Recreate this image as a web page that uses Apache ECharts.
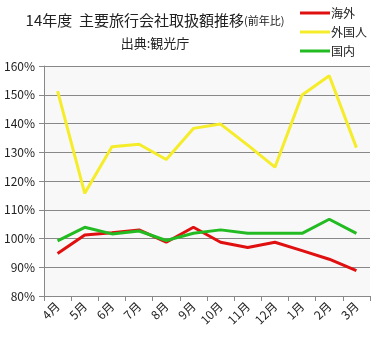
<!DOCTYPE html>
<html><head><meta charset="utf-8">
<script src="https://cdn.jsdelivr.net/npm/echarts@6/dist/echarts.min.js"></script>
<style>html,body{margin:0;padding:0;background:#fff}#c{width:376px;height:346px}</style>
</head><body><div id="c"></div>
<script>
const categories = ['4月','5月','6月','7月','8月','9月','10月','11月','12月','1月','2月','3月'];
const overseas = [94.8,101.2,102.0,103.0,98.7,103.9,98.7,96.9,98.7,95.8,92.8,88.8];
const inbound = [151.3,115.7,131.9,132.8,127.5,138.3,139.8,132.5,124.8,149.9,156.6,131.6];
const domestic = [99.2,103.9,101.6,102.6,99.3,101.8,103.0,101.8,101.8,101.8,106.7,101.8];
const seriesNames = ['海外','外国人','国内'];
const colors = ['#e01010','#f5ec2a','#22bb22'];
const font = '"Noto Sans CJK JP", sans-serif';
const chart = echarts.init(document.getElementById('c'));
chart.setOption({
  animation:false,
  color: colors,
  textStyle:{fontFamily:font},
  title:[{
    text:'14年度  主要旅行会社取扱額推移{s|(前年比)}',
    left:150, top:8, textAlign:'center',
    textStyle:{fontSize:15,fontWeight:'normal',color:'#222',fontFamily:font,
      rich:{s:{fontSize:11,color:'#222',fontFamily:font}}}
  },{
    text:'出典:観光庁',
    left:150, top:32, textAlign:'center',
    textStyle:{fontSize:13,fontWeight:'normal',color:'#222',fontFamily:font}
  }],
  legend:{
    orient:'vertical', left:295, top:2, itemGap:7,
    itemWidth:30, itemHeight:14, icon:'path://M0,0 L30,0 L30,3 L0,3 Z',
    textStyle:{fontSize:12,color:'#222',fontFamily:font, padding:[0,0,0,-4]},
    data: seriesNames
  },
  grid:{left:44,right:6,top:66,bottom:50,show:true,backgroundColor:'#f8f8f8',borderWidth:0},
  xAxis:{
    type:'category', data:categories, boundaryGap:true,
    axisLine:{lineStyle:{color:'#888'}},
    axisTick:{show:true,length:5,lineStyle:{color:'#888'}},
    axisLabel:{rotate:45,fontSize:12,color:'#222',margin:8,interval:0,fontFamily:font}
  },
  yAxis:{
    type:'value', min:80, max:160, interval:10,
    axisLine:{show:true,lineStyle:{color:'#888'}},
    axisTick:{show:true,length:5,lineStyle:{color:'#888'}},
    splitLine:{lineStyle:{color:'#888'}},
    axisLabel:{formatter:'{value}%',fontSize:12,color:'#222',margin:9,fontFamily:font}
  },
  series:[
    {name:seriesNames[0],type:'line',data:overseas,symbol:'none',lineStyle:{width:3},z:3},
    {name:seriesNames[1],type:'line',data:inbound,symbol:'none',lineStyle:{width:3},z:2},
    {name:seriesNames[2],type:'line',data:domestic,symbol:'none',lineStyle:{width:3},z:4}
  ]
});
</script></body></html>
